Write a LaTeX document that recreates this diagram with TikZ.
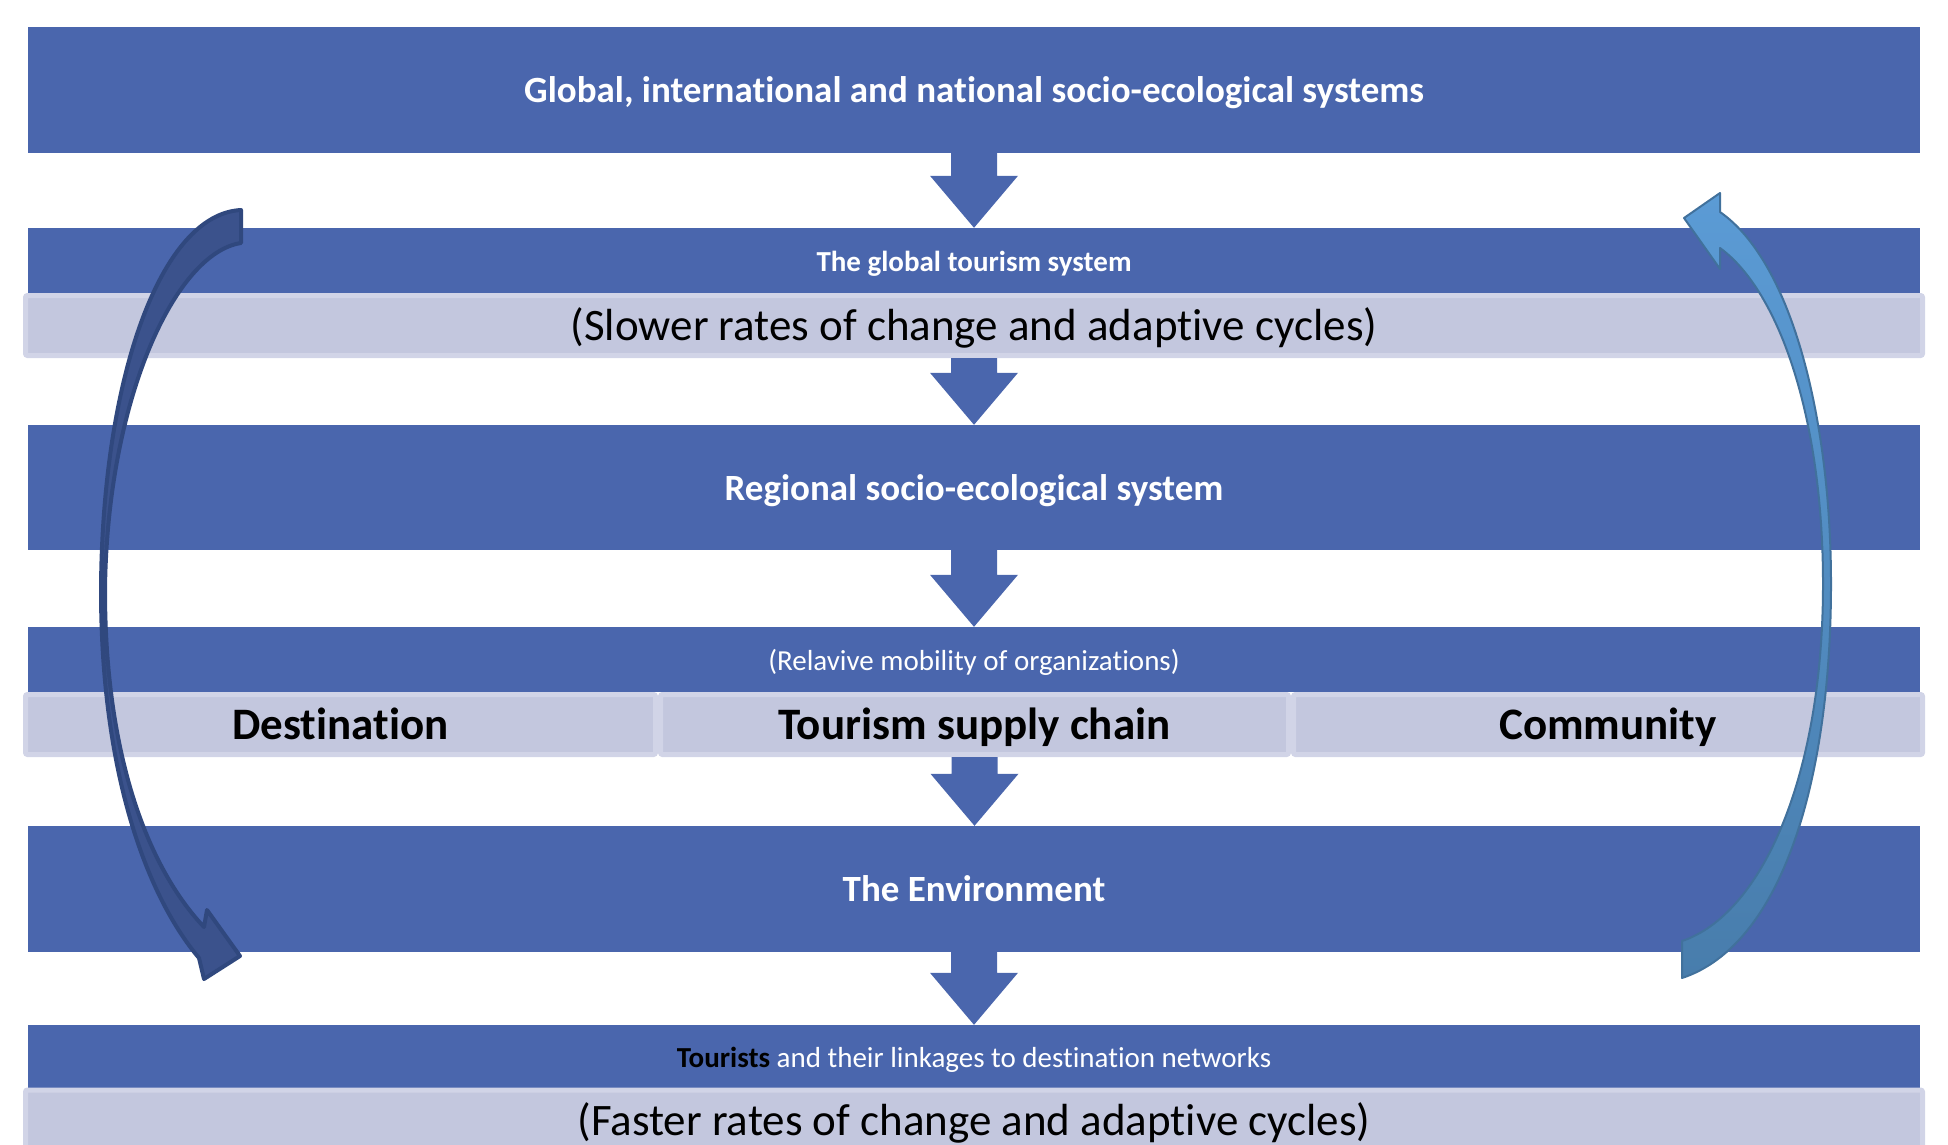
\documentclass[tikz,border=0pt]{standalone}
\usepackage{fontspec}
\setmainfont{Carlito}[Ligatures=NoCommon]
\usetikzlibrary{positioning,calc}

\definecolor{bandblue}{RGB}{74,102,173}
\definecolor{paleband}{RGB}{195,199,222}
\definecolor{paleedge}{RGB}{209,212,231}
\definecolor{loopdark}{RGB}{59,82,140}
\definecolor{loopedge}{RGB}{48,72,126}
\definecolor{looplight}{RGB}{91,155,213}
\definecolor{loopmid}{RGB}{72,125,172}
\definecolor{loopline}{RGB}{65,113,156}

% block arrow from the bottom of one band to the top of the next
\newcommand{\bandarrow}[2]{%
  \fill[bandblue] let \p1=(#1.south), \p2=(#2.north) in
    (\x1-23pt,\y1) -- (\x1-23pt,\y2+52pt) -- (\x1-44pt,\y2+52pt) -- (\x1,\y2)
    -- (\x1+44pt,\y2+52pt) -- (\x1+23pt,\y2+52pt) -- (\x1+23pt,\y1) -- cycle;}

\begin{document}
\begin{tikzpicture}
   [x=1pt,y=-1pt,
    band/.style={fill=bandblue,minimum width=1892pt,inner sep=0pt,text=white},
    pale/.style={fill=paleband,draw=paleedge,line width=5pt,rounded corners=2pt,
     minimum height=60pt,inner sep=0pt},
    big/.style={font=\bfseries\fontsize{37}{44}\selectfont,text height=32.75pt,text depth=7.4pt},
    small/.style={font=\fontsize{29}{35}\selectfont,text height=27.75pt,text depth=5.8pt},
    large/.style={font=\fontsize{45}{54}\selectfont,text height=39.75pt,text depth=9pt}]

\useasboundingbox (0,0) rectangle (1948,1144);
\clip (0,0) rectangle (1948,1144);

\node [band,big,minimum height=126pt] (sys1) at (974,90) {Global, international and national socio-ecological systems};
\node [band,small,minimum height=65pt] (sys2) at (974,260.5) {\bfseries The global tourism system};
\node [pale,large,minimum width=1897pt] (slow) at (974,325.5) {(Slower rates of change and adaptive cycles)};
\node [band,big,minimum height=125pt] (sys3) at (974,487.5) {Regional socio-ecological system};
\node [band,small,minimum height=65pt] (sys4) at (974,659.5) {(Relavive mobility of organizations)};
\node [pale,large,minimum width=630pt] (dest) at (340.5,724.5) {\bfseries Destination};
\node [pale,large,minimum width=628pt] (chain) at (974.5,724.5) {\bfseries Tourism supply chain};
\node [pale,large,minimum width=629pt] (comm) at (1608,724.5) {\bfseries Community};
\node [band,big,minimum height=126pt] (sys5) at (974,889) {The Environment};
\node [band,small,minimum height=63pt] (sys6) at (974,1056.5) {\textcolor{black}{\bfseries Tourists} and their linkages to destination networks};
\node [pale,large,minimum width=1897pt] (fast) at (974,1120) {(Faster rates of change and adaptive cycles)};

\bandarrow{sys1}{sys2}
\bandarrow{slow}{sys3}
\bandarrow{sys3}{sys4}
\bandarrow{chain}{sys5}
\bandarrow{sys5}{sys6}

% downward loop on the left
\filldraw [fill=loopdark,draw=loopedge,line width=4pt,line join=round]
  (241,210) .. controls (160,214) and (102,380) .. (101,590)
  .. controls (101,780) and (150,900) .. (199,958)
  -- (204,979) -- (240,956) -- (207,910) -- (204,927)
  .. controls (150,870) and (105,760) .. (105,590)
  .. controls (107,400) and (175,253) .. (241,243) -- cycle;

% upward loop on the right
\shadedraw [top color=looplight,bottom color=loopmid,draw=loopline,line width=2pt,line join=round]
  (1682,978) -- (1682,941)
  .. controls (1760,915) and (1823,780) .. (1823,584)
  .. controls (1823,420) and (1780,292) .. (1720,248)
  -- (1720,269) -- (1684,218) -- (1720,193) -- (1720,212)
  .. controls (1792,262) and (1831,420) .. (1831,584)
  .. controls (1831,780) and (1782,945) .. (1682,978) -- cycle;
\end{tikzpicture}
\end{document}
